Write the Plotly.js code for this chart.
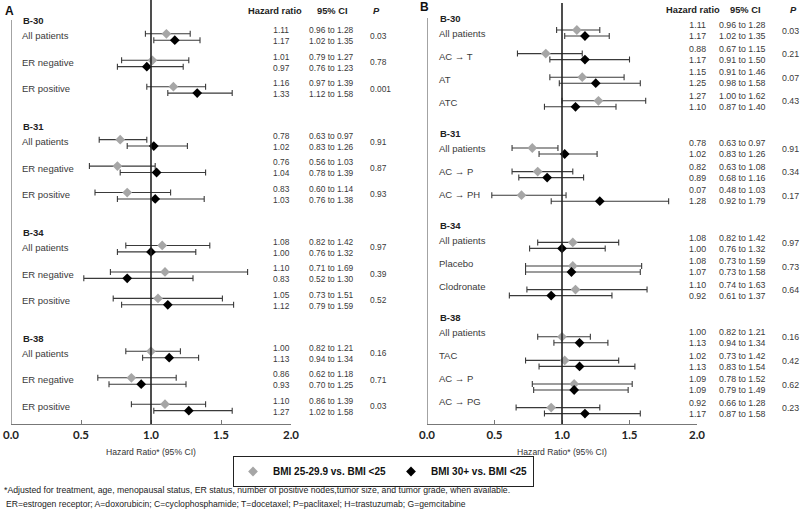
<!DOCTYPE html>
<html>
<head>
<meta charset="utf-8">
<script src="https://cdn.plot.ly/plotly-3.0.1.min.js"></script>
<style>html,body{margin:0;padding:0;background:#fff;}#chart{width:800px;height:517px;}</style>
</head>
<body>
<div id="chart"></div>
<script>
// ---------- Panel A data ----------
const aStudy = ["B-30","B-30","B-30","B-31","B-31","B-31","B-34","B-34","B-34","B-38","B-38","B-38"];
const aLabel = ["All patients","ER negative","ER positive","All patients","ER negative","ER positive","All patients","ER negative","ER positive","All patients","ER negative","ER positive"];
const aHr25 = [1.11,1.01,1.16,0.78,0.76,0.83,1.08,1.10,1.05,1.00,0.86,1.10];
const aLo25 = [0.96,0.79,0.97,0.63,0.56,0.60,0.82,0.71,0.73,0.82,0.62,0.86];
const aHi25 = [1.28,1.27,1.39,0.97,1.03,1.14,1.42,1.69,1.51,1.21,1.18,1.39];
const aHr30 = [1.17,0.97,1.33,1.02,1.04,1.03,1.00,0.83,1.12,1.13,0.93,1.27];
const aLo30 = [1.02,0.76,1.12,0.83,0.78,0.76,0.76,0.52,0.79,0.94,0.70,1.02];
const aHi30 = [1.35,1.23,1.58,1.26,1.39,1.38,1.32,1.30,1.59,1.34,1.25,1.58];
const aP = ["0.03","0.78","0.001","0.91","0.87","0.93","0.97","0.39","0.52","0.16","0.71","0.03"];

// ---------- Panel B data ----------
const bStudy = ["B-30","B-30","B-30","B-30","B-31","B-31","B-31","B-34","B-34","B-34","B-38","B-38","B-38","B-38"];
const bLabel = ["All patients","AC \u2192 T","AT","ATC","All patients","AC \u2192 P","AC \u2192 PH","All patients","Placebo","Clodronate","All patients","TAC","AC \u2192 P","AC \u2192 PG"];
const bHr25 = [1.11,0.88,1.15,1.27,0.78,0.82,0.70,1.08,1.08,1.10,1.00,1.02,1.09,0.92];
const bLo25 = [0.96,0.67,0.91,1.00,0.63,0.63,0.48,0.82,0.73,0.74,0.82,0.73,0.78,0.66];
const bHi25 = [1.28,1.15,1.46,1.62,0.97,1.08,1.03,1.42,1.59,1.63,1.21,1.42,1.52,1.28];
const bHr30 = [1.17,1.17,1.25,1.10,1.02,0.89,1.28,1.00,1.07,0.92,1.13,1.13,1.09,1.17];
const bLo30 = [1.02,0.91,0.98,0.87,0.83,0.68,0.92,0.76,0.73,0.61,0.94,0.83,0.79,0.87];
const bHi30 = [1.35,1.50,1.58,1.40,1.26,1.16,1.79,1.32,1.58,1.37,1.34,1.54,1.49,1.58];
const bP = ["0.03","0.21","0.07","0.43","0.91","0.34","0.17","0.97","0.73","0.64","0.16","0.42","0.62","0.23"];
// hazard ratio text for BMI 25-29.9 as printed in the source table (AC -> PH printed "0.07")
const bHr25Printed = ["1.11","0.88","1.15","1.27","0.78","0.82","0.07","1.08","1.08","1.10","1.00","1.02","1.09","0.92"];

const tickVals = [0, 0.5, 1, 1.5, 2];
const tickText = ["0.0","0.5","1.0","1.5","2.0"];
const seriesNames = ["BMI 25-29.9 vs. BMI <25", "BMI 30+ vs. BMI <25"];
const colColumnHeads = ["Hazard ratio", "95% CI", "P"];

// ---------- layout helpers ----------
const W = 800, H = 517;
const px = v => v / W;
const py = v => (H - v) / H;
const AXIS_Y = 424;
const GRAY = "#a6a6a6", BLACK = "#000000", TXT = "#3a3a3a";
const FONT = "Liberation Sans, Arial, sans-serif";
const NARROW = "Liberation Sans Narrow, Arial Narrow, sans-serif";

function positions(study) {
  let g = 0, out = [];
  for (let i = 0; i < study.length; i++) {
    if (i > 0 && study[i] !== study[i-1]) g++;
    out.push(i + g);
  }
  return out;
}

const panels = [
  { key: "A", study: aStudy, label: aLabel, hr25: aHr25, lo25: aLo25, hi25: aHi25, hr30: aHr30, lo30: aLo30, hi30: aHi30, p: aP,
    hr25Text: aHr25.map(v => v.toFixed(2)),
    xa: "x", ya: "y", domain: [px(11), px(291)], top: 37, pitch: 26.46,
    dm: 0.121, tOff: -0.05, labScale: 1.0, labOff: -0.04, headOff: -0.567,
    labX: 20, hrX: 281, ciX: 308, pX: 369, numSize: 8.4,
    headHR: 275, headCI: 332, headP: 376, headY: 11, letterX: 3, letterY: 11, refTop: 0, axTop: 20 },
  { key: "B", study: bStudy, label: bLabel, hr25: bHr25, lo25: bLo25, hi25: bHi25, hr30: bHr30, lo30: bLo30, hi30: bHi30, p: bP,
    hr25Text: bHr25Printed,
    xa: "x2", ya: "y2", domain: [px(427), px(697)], top: 33, pitch: 23.6,
    dm: 0.127, tOff: -0.1, labScale: 0.975, labOff: 0, headOff: -0.61,
    labX: 437, hrX: 697, ciX: 718, pX: 781, numSize: 8.8,
    headHR: 693, headCI: 745, headP: 793, headY: 10, letterX: 418, letterY: 7, refTop: 3, axTop: 18 }
];

const traces = [];
const annotations = [];
const shapes = [];
const layout = {
  width: W, height: H,
  margin: { l: 0, r: 0, t: 0, b: 0 },
  paper_bgcolor: "#fff", plot_bgcolor: "rgba(0,0,0,0)",
  showlegend: true,
  legend: {
    orientation: "h", x: px(233), xanchor: "left", y: py(456), yanchor: "top",
    bordercolor: "#222", borderwidth: 1, bgcolor: "#fff",
    font: { family: FONT, size: 10, color: "#111", weight: "bold" },
    itemwidth: 30, tracegroupgap: 0
  },
  font: { family: FONT, color: TXT }
};

panels.forEach((P, pi) => {
  const pos = positions(P.study);
  const n = pos.length;
  const yMax = (AXIS_Y - P.top) / P.pitch;
  const yMin = -P.top / P.pitch;
  const xName = pi === 0 ? "xaxis" : "xaxis2";
  const yName = pi === 0 ? "yaxis" : "yaxis2";
  layout[xName] = {
    domain: P.domain, range: [0, 2], anchor: P.ya,
    showline: true, linecolor: "#777", linewidth: 1,
    ticks: "inside", ticklen: 4, tickcolor: "#777", tickwidth: 1,
    tickvals: tickVals, ticktext: tickText,
    tickfont: { family: "Lato, sans-serif", size: 11.5, color: "#222", weight: "bold" },
    showgrid: false, zeroline: false, fixedrange: true,
    title: { text: "Hazard Ratio* (95% CI)", font: { family: FONT, size: 8.6, color: "#333" }, standoff: 9 }
  };
  layout[yName] = {
    domain: [py(AXIS_Y), 1], range: [yMax, yMin], anchor: P.xa,
    visible: false, showgrid: false, zeroline: false, fixedrange: true
  };

  const specs = [
    { hr: P.hr25, lo: P.lo25, hi: P.hi25, color: GRAY, sign: -1, name: seriesNames[0] },
    { hr: P.hr30, lo: P.lo30, hi: P.hi30, color: BLACK, sign: 1, name: seriesNames[1] }
  ];
  specs.forEach((s, si) => {
    traces.push({
      type: "scatter", mode: "markers",
      x: s.hr, y: pos.map(v => v + s.sign * P.dm),
      xaxis: P.xa, yaxis: P.ya,
      name: s.name, legendgroup: "g" + si, showlegend: pi === 0,
      marker: { symbol: "diamond", size: 7.5, color: s.color, line: { width: 0 } },
      error_x: {
        type: "data", symmetric: false,
        array: s.hr.map((v, i) => s.hi[i] - v),
        arrayminus: s.hr.map((v, i) => v - s.lo[i]),
        color: "#3a3a3a", thickness: 1.1, width: 3
      },
      hoverinfo: "skip"
    });
  });

  // reference line at HR = 1 and left vertical axis line
  shapes.push({ type: "line", xref: P.xa, yref: "paper", x0: 1, x1: 1, y0: py(AXIS_Y), y1: py(P.refTop), line: { color: "#222", width: 1.6 } });
  shapes.push({ type: "line", xref: P.xa, yref: "paper", x0: 0, x1: 0, y0: py(AXIS_Y), y1: py(P.axTop), line: { color: "#666", width: 1.2 } });

  // panel letter
  annotations.push({ xref: "paper", yref: "paper", x: px(P.letterX), y: py(P.letterY), xanchor: "left", yanchor: "middle", showarrow: false, text: "<b>" + P.key + "</b>", font: { family: FONT, size: 12, color: "#111" } });
  // column heads
  annotations.push({ xref: "paper", yref: "paper", x: px(P.headHR), y: py(P.headY), xanchor: "center", yanchor: "middle", showarrow: false, text: "<b>" + colColumnHeads[0] + "</b>", font: { family: FONT, size: 9.3, color: "#222" } });
  annotations.push({ xref: "paper", yref: "paper", x: px(P.headCI), y: py(P.headY), xanchor: "center", yanchor: "middle", showarrow: false, text: "<b>" + colColumnHeads[1] + "</b>", font: { family: FONT, size: 9.3, color: "#222" } });
  annotations.push({ xref: "paper", yref: "paper", x: px(P.headP), y: py(P.headY), xanchor: "center", yanchor: "middle", showarrow: false, text: "<b><i>" + colColumnHeads[2] + "</i></b>", font: { family: FONT, size: 9.3, color: "#222" } });

  for (let i = 0; i < n; i++) {
    const k = pos[i];
    const labY = k * P.labScale + P.labOff;
    if (i === 0 || P.study[i] !== P.study[i-1]) {
      annotations.push({ xref: "paper", yref: P.ya, x: px(P.labX + 1), y: labY + P.headOff, xanchor: "left", yanchor: "middle", showarrow: false, text: "<b>" + P.study[i] + "</b>", font: { family: FONT, size: 9.5, color: "#222" } });
    }
    annotations.push({ xref: "paper", yref: P.ya, x: px(P.labX), y: labY, xanchor: "left", yanchor: "middle", showarrow: false, text: P.label[i], font: { family: FONT, size: 9.5, color: TXT } });
    const yT = k + P.tOff;
    const hrTxt = P.hr25Text[i] + "<br>" + P.hr30[i].toFixed(2);
    const ciTxt = P.lo25[i].toFixed(2) + " to " + P.hi25[i].toFixed(2) + "<br>" + P.lo30[i].toFixed(2) + " to " + P.hi30[i].toFixed(2);
    annotations.push({ xref: "paper", yref: P.ya, x: px(P.hrX), y: yT, xanchor: "center", yanchor: "middle", align: "center", borderpad: 0, showarrow: false, text: hrTxt, font: { family: FONT, size: P.numSize, color: TXT } });
    annotations.push({ xref: "paper", yref: P.ya, x: px(P.ciX), y: yT, xanchor: "left", yanchor: "middle", align: "left", borderpad: 0, showarrow: false, text: ciTxt, font: { family: FONT, size: P.numSize, color: TXT } });
    annotations.push({ xref: "paper", yref: P.ya, x: px(P.pX), y: yT, xanchor: "left", yanchor: "middle", borderpad: 0, showarrow: false, text: P.p[i], font: { family: FONT, size: P.numSize, color: TXT } });
  }
});

// footnotes
annotations.push({ xref: "paper", yref: "paper", x: px(2), y: py(490), xanchor: "left", yanchor: "middle", showarrow: false,
  text: "*Adjusted for treatment, age, menopausal status, ER status, number of positive nodes,tumor size, and tumor grade, when available.",
  font: { family: NARROW, size: 8.7, color: "#222" } });
annotations.push({ xref: "paper", yref: "paper", x: px(4), y: py(504), xanchor: "left", yanchor: "middle", showarrow: false,
  text: "ER=estrogen receptor; A=doxorubicin; C=cyclophosphamide; T=docetaxel; P=paclitaxel; H=trastuzumab; G=gemcitabine",
  font: { family: NARROW, size: 8.6, color: "#222" } });

layout.annotations = annotations;
layout.shapes = shapes;

Plotly.newPlot("chart", traces, layout, { staticPlot: true, displayModeBar: false });
</script>
</body>
</html>
